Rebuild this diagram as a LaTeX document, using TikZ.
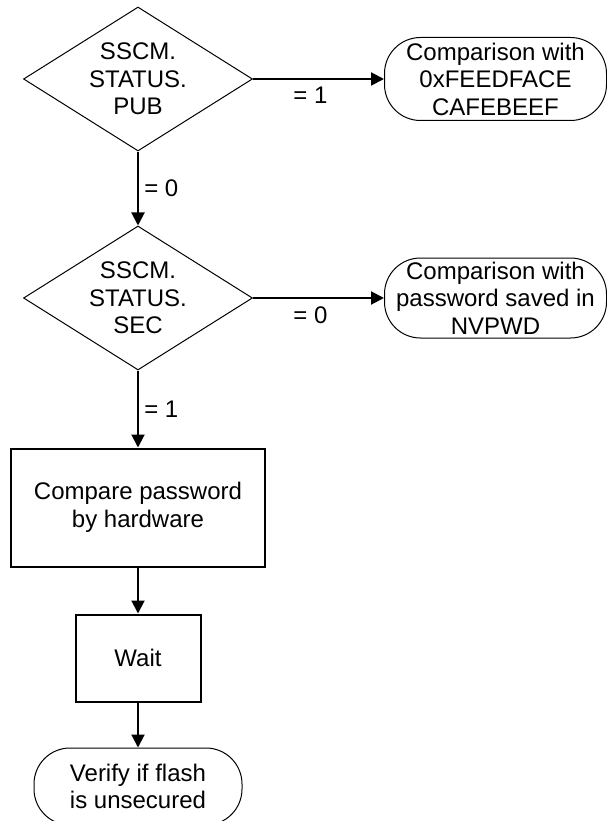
\documentclass[tikz,border=0pt]{standalone}
\usepackage{fontspec}
\setmainfont{Liberation Sans}
\usetikzlibrary{positioning,arrows.meta,shapes.geometric}

\begin{document}
\begin{tikzpicture}[x=1pt,y=-1pt,
  font=\fontsize{24}{27.5}\selectfont,
  decision/.style={diamond,draw,line width=1pt,aspect=1.59,inner sep=0pt,
    minimum width=229pt,minimum height=144pt,align=center},
  terminal/.style={draw,line width=1pt,rounded corners=36pt,inner sep=0pt,
    align=center},
  process/.style={draw,line width=2pt,inner sep=0pt,align=center},
  flow/.style={-{Triangle[length=13pt,width=13pt]},line width=2pt}]

  \useasboundingbox (0,0) rectangle (606,821);

  % Check PUB
  \node [decision] (pub) at (138,79) {SSCM.\\STATUS.\\PUB};
  \node [terminal,minimum width=222pt,minimum height=83pt,right=131pt of pub] (magic) {Comparison with\\0xFEEDFACE\\CAFEBEEF};
  \draw [flow] (pub) -- node [below=4pt,xshift=-8pt] {= 1} (magic);

  % Check SEC
  \node [decision,below=74pt of pub] (sec) {SSCM.\\STATUS.\\SEC};
  \draw [flow] (pub) -- node [right=2pt] {= 0} (sec);
  \node [terminal,minimum width=222pt,minimum height=80pt,right=131pt of sec] (nvpwd) {Comparison with\\password saved in\\NVPWD};
  \draw [flow] (sec) -- node [below=4pt,xshift=-8pt] {= 0} (nvpwd);

  % Hardware compare
  \node [process,minimum width=254pt,minimum height=118pt,below=77pt of sec] (hw) {Compare password\\by hardware};
  \draw [flow] (sec) -- node [right=2pt] {= 1} (hw);

  % Wait
  \node [process,minimum width=125pt,minimum height=87pt,below=46pt of hw] (wait) {Wait};
  \draw [flow] (hw) -- (wait);

  % Verify
  \node [terminal,minimum width=208pt,minimum height=77pt,below=45pt of wait] (verify) {Verify if flash\\is unsecured};
  \draw [flow] (wait) -- (verify);

\end{tikzpicture}
\end{document}
